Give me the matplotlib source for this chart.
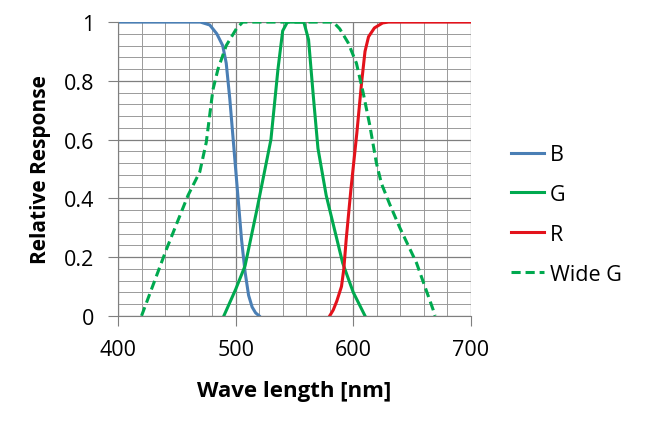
import matplotlib.pyplot as plt
from matplotlib.ticker import MultipleLocator

plt.rcParams['font.family'] = ['Open Sans', 'DejaVu Sans']

# spectral response curves
b_wl = [400, 470, 478, 484, 489, 492, 495, 500, 505, 508, 511, 514, 517, 520]
b_val = [1, 1, 0.99, 0.96, 0.92, 0.86, 0.74, 0.50, 0.26, 0.15, 0.07, 0.03, 0.01, 0]

g_wl = [490, 500, 508, 518, 530, 536, 540, 544, 558, 562, 566, 570, 577, 591, 600, 610]
g_val = [0, 0.09, 0.17, 0.36, 0.60, 0.84, 0.97, 1, 1, 0.94, 0.75, 0.57, 0.41, 0.18, 0.08, 0]

r_wl = [580, 583, 586, 590, 592, 594, 598, 603, 607, 610, 613, 618, 625, 630, 700]
r_val = [0, 0.02, 0.05, 0.10, 0.16, 0.26, 0.43, 0.62, 0.79, 0.90, 0.95, 0.98, 0.997, 1, 1]

wg_wl = [420, 441, 459.5, 469.5, 475, 480.7, 485, 492, 500.6, 506, 583, 588.5, 595.6,
         602.7, 608.4, 614, 619.7, 624, 631, 639.6, 653.8, 668, 669.5]
wg_val = [0, 0.225, 0.41, 0.49, 0.59, 0.77, 0.84, 0.92, 0.977, 1, 1, 0.977, 0.93,
          0.86, 0.76, 0.65, 0.52, 0.45, 0.38, 0.30, 0.18, 0.02, 0]

x_ticks = [400, 500, 600, 700]
y_ticks = [0, 0.2, 0.4, 0.6, 0.8, 1]
y_labels = ['0', '0.2', '0.4', '0.6', '0.8', '1']

fig = plt.figure(figsize=(6.45, 4.27), dpi=100)
ax = fig.add_axes([0.183, 0.258, 0.547, 0.688])

ax.plot(b_wl, b_val, color='#4a7fb5', lw=2.2, label='B')
ax.plot(g_wl, g_val, color='#00a94f', lw=2.2, label='G')
ax.plot(r_wl, r_val, color='#e3121b', lw=2.2, label='R')
ax.plot(wg_wl, wg_val, color='#00a94f', lw=2.2, ls=(0, (3, 1.6)), label='Wide G')

ax.set_xlim(400, 700)
ax.set_ylim(0, 1)
ax.set_xticks(x_ticks)
ax.set_yticks(y_ticks)
ax.set_yticklabels(y_labels)
ax.xaxis.set_minor_locator(MultipleLocator(20))
ax.yaxis.set_minor_locator(MultipleLocator(0.04))

# grid lines
ax.grid(which='major', color='#7f7f7f', lw=0.9)
ax.grid(which='minor', color='#9a9a9a', lw=0.7)
ax.set_axisbelow(True)

for side in ['top', 'right']:
    ax.spines[side].set_visible(False)
ax.spines['left'].set_color('#7f7f7f')
ax.spines['bottom'].set_color('#7f7f7f')

ax.tick_params(which='major', length=7, color='#7f7f7f', labelsize=15.5, pad=10)
ax.tick_params(which='minor', length=0)

ax.set_xlabel('Wave length [nm]', fontsize=16, fontweight='bold', labelpad=14)
ax.set_ylabel('Relative Response', fontsize=15, fontweight='bold', labelpad=9)

ax.legend(loc='center left', bbox_to_anchor=(1.115, 0.345), frameon=False,
          fontsize=15.5, handlelength=1.5, handletextpad=0.3, labelspacing=0.88,
          borderaxespad=0, borderpad=0)

fig.savefig('out.png', dpi=100)
